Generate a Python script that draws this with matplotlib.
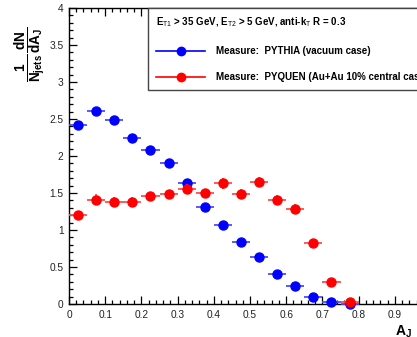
import matplotlib
matplotlib.use("Agg")
import matplotlib.pyplot as plt
from matplotlib.lines import Line2D
from matplotlib.ticker import MultipleLocator, FixedFormatter, FixedLocator

# Dijet asymmetry A_J: bin centres and normalised yields
bin_centers = [0.025, 0.075, 0.125, 0.175, 0.225, 0.275, 0.325, 0.375,
               0.425, 0.475, 0.525, 0.575, 0.625, 0.675, 0.725, 0.775]
bin_half_width = 0.025

pythia_vals = [2.42, 2.61, 2.49, 2.25, 2.08, 1.91, 1.64, 1.31,
               1.07, 0.84, 0.63, 0.40, 0.24, 0.10, 0.03, 0.0]
pythia_errs = [0.03, 0.03, 0.03, 0.03, 0.03, 0.03, 0.03, 0.03,
               0.03, 0.02, 0.02, 0.02, 0.02, 0.01, 0.01, 0.01]

pyquen_vals = [1.20, 1.41, 1.38, 1.38, 1.46, 1.48, 1.55, 1.50,
               1.63, 1.49, 1.65, 1.41, 1.29, 0.83, 0.30, 0.03]
pyquen_errs = [0.06, 0.07, 0.06, 0.06, 0.06, 0.06, 0.07, 0.06,
               0.07, 0.06, 0.07, 0.06, 0.06, 0.05, 0.04, 0.02]

x_ticks = [0, 0.1, 0.2, 0.3, 0.4, 0.5, 0.6, 0.7, 0.8, 0.9, 1.0]
x_tick_labels = ["0", "0.1", "0.2", "0.3", "0.4", "0.5", "0.6", "0.7", "0.8", "0.9", "1"]
y_ticks = [0, 0.5, 1, 1.5, 2, 2.5, 3, 3.5, 4]
y_tick_labels = ["0", "0.5", "1", "1.5", "2", "2.5", "3", "3.5", "4"]

header = r"E$_{\rm T1}$ > 35 GeV, E$_{\rm T2}$ > 5 GeV, anti-k$_{\rm T}$ R = 0.3"
label_pythia = "Measure:  PYTHIA (vacuum case)"
label_pyquen = "Measure:  PYQUEN (Au+Au 10% central case)"

plt.rcParams["font.family"] = ["Liberation Sans", "DejaVu Sans"]
plt.rcParams["mathtext.fontset"] = "custom"
plt.rcParams["mathtext.rm"] = "Liberation Sans"
plt.rcParams["mathtext.it"] = "Liberation Sans:italic"
plt.rcParams["mathtext.bf"] = "Liberation Sans:bold"

fig = plt.figure(figsize=(4.17, 3.37), dpi=100)
W, H = 417.0, 337.0
# frame spans x = 0..1 over pixels 69..431, y = 0..4 over pixels 304..8
ax = fig.add_axes([69 / W, 1 - 304 / H, 362 / W, 296 / H])
ax.set_xlim(0, 1)
ax.set_ylim(0, 4)

blue = (0.0, 0.0, 1.0)
red = (1.0, 0.0, 0.0)

ax.errorbar(bin_centers, pythia_vals, xerr=bin_half_width, yerr=pythia_errs,
            fmt="o", color=blue, ecolor=(0.3, 0.3, 1.0), elinewidth=1.3,
            markersize=6.5, capsize=0, clip_on=False, zorder=3)
ax.errorbar(bin_centers, pyquen_vals, xerr=bin_half_width, yerr=pyquen_errs,
            fmt="o", color=red, ecolor=(1.0, 0.3, 0.3), elinewidth=1.3,
            markersize=6.5, capsize=0, clip_on=False, zorder=4)

ax.xaxis.set_major_locator(FixedLocator(x_ticks))
ax.xaxis.set_major_formatter(FixedFormatter(x_tick_labels))
ax.xaxis.set_minor_locator(MultipleLocator(0.02))
ax.yaxis.set_major_locator(FixedLocator(y_ticks))
ax.yaxis.set_major_formatter(FixedFormatter(y_tick_labels))
ax.yaxis.set_minor_locator(MultipleLocator(0.1))

ax.tick_params(which="both", direction="in", top=True, right=True,
               width=0.9, colors="black", labelcolor="#222222")
ax.tick_params(which="major", length=6, labelsize=7.3, pad=4)
ax.tick_params(which="minor", length=3)
for s in ax.spines.values():
    s.set_linewidth(1.0)
    s.set_color("black")

# y-axis title as a fraction
fig.text(31 / W, 1 - 54 / H,
         r"$\mathbf{\frac{1}{N_{jets}}\frac{dN}{dA_{J}}}$",
         rotation=90, fontsize=14, ha="center", va="center")
# x-axis title
fig.text(395 / W, 1 - 332 / H, r"$\mathbf{A_{J}}$",
         fontsize=10, ha="left", va="center")

handles = [
    Line2D([], [], color=blue, marker="o", markersize=6, linewidth=1.2),
    Line2D([], [], color=red, marker="o", markersize=6, linewidth=1.2),
]
leg_bottom = (304 - 89) / 296
leg = ax.legend(handles, [label_pythia, label_pyquen], title=header,
                loc="upper left",
                bbox_to_anchor=((148 - 69) / 362, leg_bottom, 0.95, 1 - leg_bottom),
                mode="expand", fancybox=False, framealpha=1,
                edgecolor="#444444", fontsize=7.0, title_fontsize=7.0,
                handlelength=5.1, handletextpad=1.1, labelspacing=1.7,
                borderpad=0.8, borderaxespad=0, alignment="left")
leg.get_frame().set_linewidth(1.0)
for t in leg.get_texts():
    t.set_fontweight("bold")
leg.get_title().set_fontweight("bold")

fig.savefig("out.png", dpi=100)
